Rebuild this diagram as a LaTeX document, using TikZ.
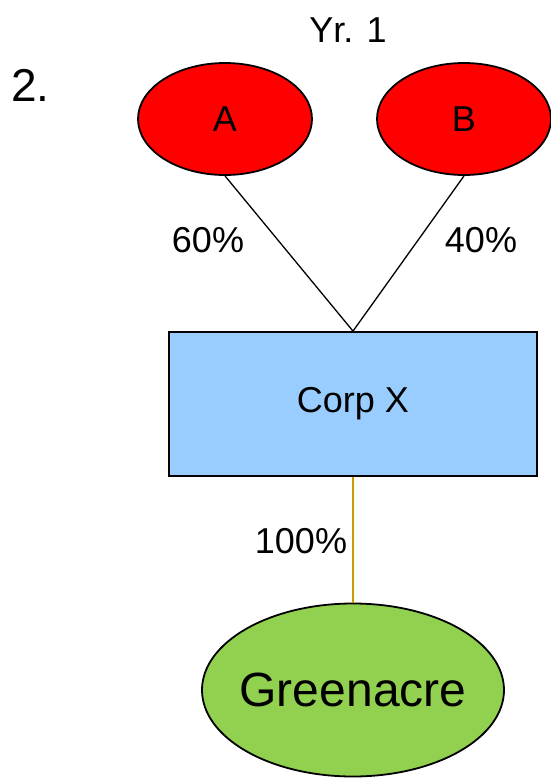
\documentclass[tikz,border=0pt]{standalone}
\usepackage{fontspec}
\setmainfont{Liberation Sans}
\usetikzlibrary{shapes.geometric}
\definecolor{redfill}{HTML}{FF0000}
\definecolor{bluefill}{HTML}{99CCFF}
\definecolor{greenfill}{HTML}{92D050}
\definecolor{goldline}{HTML}{CC9900}
\tikzset{
  owner/.style={ellipse, draw=black, line width=1.8pt, fill=redfill, minimum width=174pt, minimum height=112pt, inner sep=0pt, font=\fontsize{36}{40}\selectfont},
  corpbox/.style={rectangle, draw=black, line width=1.8pt, fill=bluefill, minimum width=368pt, minimum height=144pt, inner sep=0pt, font=\fontsize{36}{40}\selectfont},
  landnode/.style={ellipse, draw=black, line width=1.8pt, fill=greenfill, minimum width=302pt, minimum height=173pt, inner sep=0pt, inner xsep=-25pt, font=\fontsize{48}{52}\selectfont},
  link/.style={draw=black, line width=1.3pt},
  goldlink/.style={draw=goldline, line width=2.6pt},
  pct/.style={anchor=base, inner sep=0pt, font=\fontsize{36}{40}\selectfont}
}
\begin{document}
\begin{tikzpicture}[x=1pt, y=-1pt]
\useasboundingbox (0,0) rectangle (550,780);
\node[owner] (A) at (225,119) {A};
\node[owner] (B) at (464,119) {B};
\node[corpbox] (X) at (353,404) {\raisebox{-4pt}{Corp X}};
\node[landnode] (G) at (353,690) {\raisebox{-2pt}{Greenacre}};
\draw[link] (A.south) -- (X.north);
\draw[link] (B.south) -- (X.north);
\draw[goldlink] (X.south) -- (G.north);
\node[pct] (p60) at (208,252) {60\%};
\node[pct] (p40) at (481,252) {40\%};
\node[pct] (p100) at (301,553) {100\%};
\node[pct] (yr) at (348,42) {Yr. 1};
\node[anchor=base west, inner sep=0pt, font=\fontsize{46}{50}\selectfont] (num) at (11,101) {2.};
\end{tikzpicture}
\end{document}
